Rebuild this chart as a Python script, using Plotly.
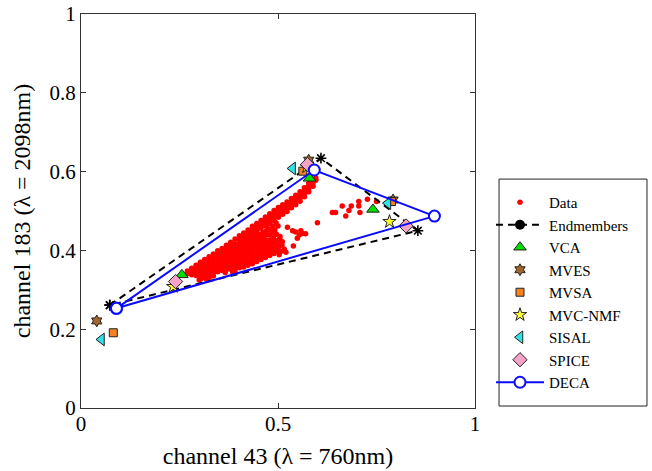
import plotly.graph_objects as go

# ---------------- data ----------------
# dense data cloud, read column by column (x, list of y)
cloud_cols = [
    (0.270, [0.341, 0.348]),
    (0.281, [0.338, 0.347, 0.355]),
    (0.292, [0.336, 0.345, 0.354, 0.362]),
    (0.303, [0.327, 0.337, 0.346, 0.355, 0.363, 0.370]),
    (0.314, [0.331, 0.340, 0.349, 0.358, 0.367, 0.377]),
    (0.325, [0.341, 0.350, 0.359, 0.368, 0.376, 0.384]),
    (0.336, [0.335, 0.344, 0.353, 0.362, 0.371, 0.380, 0.391]),
    (0.347, [0.346, 0.355, 0.364, 0.373, 0.382, 0.391, 0.399]),
    (0.358, [0.349, 0.358, 0.367, 0.376, 0.385, 0.394, 0.405]),
    (0.369, [0.351, 0.360, 0.369, 0.378, 0.387, 0.396, 0.405, 0.413]),
    (0.380, [0.352, 0.361, 0.370, 0.379, 0.388, 0.397, 0.406, 0.414, 0.421]),
    (0.391, [0.346, 0.354, 0.363, 0.372, 0.381, 0.390, 0.399, 0.408, 0.417, 0.429]),
    (0.402, [0.356, 0.365, 0.374, 0.383, 0.392, 0.401, 0.410, 0.419, 0.428, 0.437]),
    (0.413, [0.358, 0.367, 0.376, 0.385, 0.394, 0.403, 0.412, 0.421, 0.430, 0.438, 0.444]),
    (0.424, [0.362, 0.371, 0.380, 0.389, 0.398, 0.407, 0.416, 0.425, 0.434, 0.443, 0.452]),
    (0.435, [0.366, 0.375, 0.384, 0.393, 0.402, 0.411, 0.420, 0.429, 0.438, 0.447, 0.455, 0.461]),
    (0.446, [0.372, 0.381, 0.390, 0.399, 0.408, 0.417, 0.426, 0.435, 0.444, 0.453, 0.461, 0.468]),
    (0.457, [0.377, 0.386, 0.395, 0.404, 0.413, 0.422, 0.431, 0.440, 0.458, 0.466, 0.476]),
    (0.468, [0.382, 0.391, 0.400, 0.409, 0.418, 0.427, 0.447, 0.462, 0.470, 0.478, 0.485]),
    (0.479, [0.387, 0.396, 0.405, 0.414, 0.426, 0.468, 0.477, 0.485, 0.493]),
    (0.490, [0.392, 0.401, 0.410, 0.419, 0.476, 0.485, 0.493, 0.501]),
    (0.501, [0.398, 0.408, 0.484, 0.492, 0.500, 0.509]),
    (0.512, [0.492, 0.500, 0.508, 0.516]),
    (0.523, [0.499, 0.507, 0.515, 0.523]),
    (0.534, [0.508, 0.516, 0.524, 0.532]),
    (0.545, [0.516, 0.524, 0.532, 0.540]),
    (0.556, [0.525, 0.533, 0.541, 0.549]),
    (0.567, [0.536, 0.544, 0.552, 0.559]),
    (0.578, [0.549, 0.557, 0.564, 0.570]),
    (0.589, [0.563, 0.571, 0.578]),
    (0.596, [0.578, 0.584]),
]
# sparse data points
sparse_x = [0.452, 0.478, 0.499, 0.505, 0.511, 0.516, 0.507, 0.539, 0.505, 0.524,
            0.537, 0.545, 0.558, 0.570, 0.554, 0.549, 0.562, 0.600, 0.638, 0.646,
            0.663, 0.686, 0.680, 0.672, 0.705, 0.708, 0.705, 0.727, 0.750, 0.485,
            0.492, 0.470, 0.488, 0.496, 0.475, 0.482, 0.494, 0.510, 0.520, 0.503,
            0.455, 0.462, 0.300, 0.318, 0.325, 0.385, 0.366,
            0.443, 0.452, 0.463, 0.472, 0.481, 0.487, 0.495, 0.500, 0.478, 0.490,
            0.500, 0.485, 0.497]
sparse_y = [0.456, 0.439, 0.426, 0.435, 0.422, 0.403, 0.397, 0.411, 0.428, 0.459,
            0.450, 0.447, 0.450, 0.442, 0.439, 0.431, 0.443, 0.470, 0.496, 0.496,
            0.513, 0.513, 0.501, 0.487, 0.513, 0.496, 0.524, 0.530, 0.524, 0.445,
            0.452, 0.448, 0.432, 0.441, 0.455, 0.410, 0.415, 0.413, 0.395, 0.389,
            0.432, 0.446, 0.325, 0.327, 0.331, 0.345, 0.344,
            0.436, 0.441, 0.436, 0.440, 0.452, 0.462, 0.470, 0.462, 0.418, 0.425,
            0.415, 0.400, 0.405]

endm_x = [0.073, 0.609, 0.855]
endm_y = [0.261, 0.634, 0.450]
vca_x = [0.256, 0.580, 0.741]
vca_y = [0.338, 0.583, 0.504]
mves_x = [0.040, 0.578, 0.792]
mves_y = [0.221, 0.629, 0.528]
mvsa_x = [0.082, 0.563, 0.788]
mvsa_y = [0.191, 0.601, 0.524]
mvcnmf_x = [0.234, 0.573, 0.783]
mvcnmf_y = [0.308, 0.612, 0.473]
sisal_x = [0.052, 0.537, 0.779]
sisal_y = [0.174, 0.608, 0.520]
spice_x = [0.240, 0.575, 0.825]
spice_y = [0.321, 0.618, 0.462]
deca_x = [0.090, 0.592, 0.897]
deca_y = [0.253, 0.604, 0.487]

x_ticks = [0, 0.5, 1]
x_ticklabels = ["0", "0.5", "1"]
y_ticks = [0, 0.2, 0.4, 0.6, 0.8, 1]
y_ticklabels = ["0", "0.2", "0.4", "0.6", "0.8", "1"]

# --------------- figure ---------------
data_x, data_y = [], []
for cx, ys in cloud_cols:
    for yy in ys:
        data_x.append(cx)
        data_y.append(yy)
data_x += sparse_x
data_y += sparse_y

SERIF = "Liberation Serif, Times New Roman, serif"

def closed(v):
    return list(v) + [v[0]]

fig = go.Figure()
fig.add_trace(go.Scatter(x=data_x, y=data_y, mode="markers", name="Data",
                         marker=dict(color="#ff0000", size=5.5, line=dict(width=0))))
fig.add_trace(go.Scatter(x=closed(endm_x), y=closed(endm_y), mode="lines+markers",
                         showlegend=False,
                         line=dict(color="black", width=2, dash="7px,5px"),
                         marker=dict(symbol="asterisk-open", size=9, color="black",
                                     line=dict(color="black", width=1.6))))
fig.add_trace(go.Scatter(x=[None], y=[None], mode="lines+markers", name="Endmembers",
                         line=dict(color="black", width=2, dash="7px,5px"),
                         marker=dict(symbol="circle", size=10, color="black")))
edge = dict(color="#222222", width=1)
fig.add_trace(go.Scatter(x=vca_x, y=vca_y, mode="markers", name="VCA",
                         marker=dict(symbol="triangle-up", size=11, color="#00dd00", line=edge)))
fig.add_trace(go.Scatter(x=mves_x, y=mves_y, mode="markers", name="MVES",
                         marker=dict(symbol="hexagram", size=9, color="#a3642a", line=edge)))
fig.add_trace(go.Scatter(x=mvsa_x, y=mvsa_y, mode="markers", name="MVSA",
                         marker=dict(symbol="square", size=8, color="#f58220", line=edge)))
fig.add_trace(go.Scatter(x=mvcnmf_x, y=mvcnmf_y, mode="markers", name="MVC-NMF",
                         marker=dict(symbol="star", size=10, color="#ffff33", line=edge)))
fig.add_trace(go.Scatter(x=sisal_x, y=sisal_y, mode="markers", name="SISAL",
                         marker=dict(symbol="triangle-left", size=11, color="#33e0e6", line=edge)))
fig.add_trace(go.Scatter(x=spice_x, y=spice_y, mode="markers", name="SPICE",
                         marker=dict(symbol="diamond", size=11, color="#f5a3c7", line=edge)))
fig.add_trace(go.Scatter(x=closed(deca_x), y=closed(deca_y), mode="lines+markers", name="DECA",
                         line=dict(color="#0a0aff", width=2),
                         marker=dict(symbol="circle", size=11, color="white",
                                     line=dict(color="#0a0aff", width=2))))

axis_common = dict(showline=True, linecolor="#333333", linewidth=1, mirror="ticks",
                   ticks="inside", ticklen=5, tickcolor="#333333", showgrid=False,
                   zeroline=False, tickfont=dict(family=SERIF, size=21, color="black"))
fig.update_xaxes(range=[0, 1], tickvals=x_ticks, ticktext=x_ticklabels,
                 title=dict(text="channel 43 (λ = 760nm)", standoff=11,
                            font=dict(family=SERIF, size=24, color="black")),
                 **axis_common)
fig.update_yaxes(range=[0, 1], tickvals=y_ticks, ticktext=y_ticklabels,
                 title=dict(text="channel 183 (λ = 2098nm)", standoff=12,
                            font=dict(family=SERIF, size=24, color="black")),
                 **axis_common)
try:
    fig.update_xaxes(ticklabelstandoff=-3)
except Exception:
    pass
try:
    fig.update_xaxes(ticklabeloverflow="allow")
    fig.update_yaxes(ticklabeloverflow="allow")
except Exception:
    pass

fig.update_layout(
    width=652, height=471,
    margin=dict(l=81, r=177, t=14, b=63, autoexpand=False),
    paper_bgcolor="white", plot_bgcolor="white",
    legend=dict(x=1.0406, y=0.5635, xanchor="left", yanchor="top",
                bgcolor="rgba(0,0,0,0)", borderwidth=0,
                font=dict(family=SERIF, size=15, color="black"),
                itemwidth=48, tracegroupgap=0),
    shapes=[dict(type="rect", xref="paper", yref="paper",
                 x0=1.061, x1=1.4365, y0=0.005, y1=0.581,
                 line=dict(color="#222222", width=1), fillcolor="white",
                 layer="below")],
)
# remove the page's default 8px body margin so the figure fills the window
fig.write_html("out.html", config={"displayModeBar": False},
               post_script="document.body.style.margin='0';document.body.style.overflow='hidden';")
